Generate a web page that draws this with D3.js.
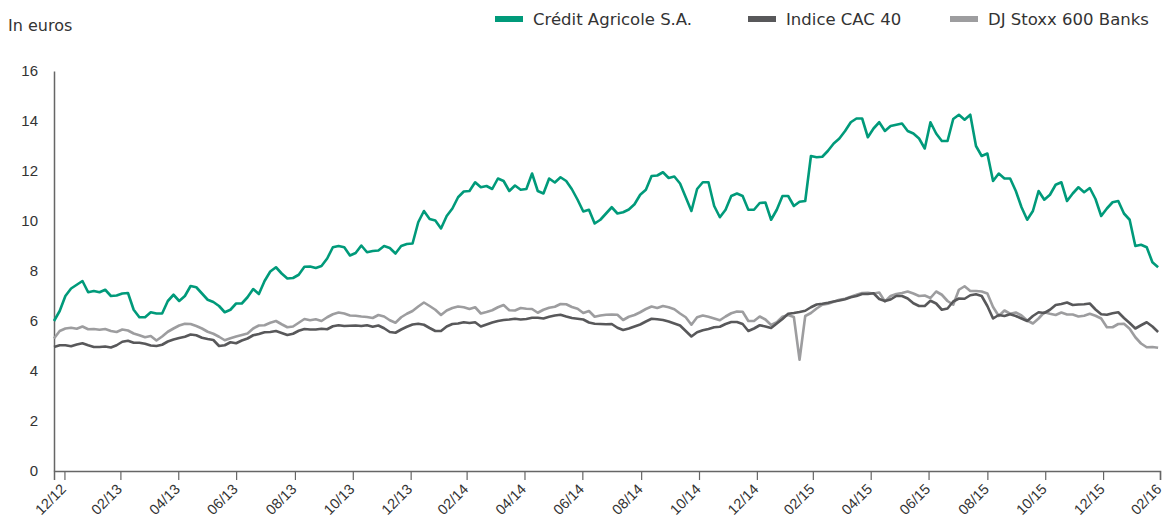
<!DOCTYPE html>
<html>
<head>
<meta charset="utf-8">
<script src="https://cdn.jsdelivr.net/npm/d3@7"></script>
<style>
  body { margin: 0; background: #fff; }
  svg { font-family: "DejaVu Sans", "Open Sans", sans-serif; }
</style>
</head>
<body>
<svg id="chart" width="1164" height="532"></svg>
<script>
// series names and colours
var seriesNames = ["Crédit Agricole S.A.", "Indice CAC 40", "DJ Stoxx 600 Banks"];
var seriesColors = ["#009a7a", "#58585a", "#9d9d9f"];

// one reading every 6 days, starting 20 Dec 2012
var startDate = "2012-12-20";
var stepDays = 6;

var creditAgricole = [
  6.0, 6.4, 7.0, 7.3, 7.45, 7.6, 7.15, 7.2, 7.15, 7.25,
  7.0, 7.02, 7.1, 7.12, 6.45, 6.15, 6.15, 6.35, 6.3, 6.3,
  6.8, 7.05, 6.8, 7.0, 7.4, 7.35, 7.1, 6.85, 6.76, 6.6,
  6.35, 6.45, 6.7, 6.7, 6.95, 7.28, 7.08, 7.6, 7.98, 8.15,
  7.9, 7.7, 7.72, 7.85, 8.17, 8.18, 8.12, 8.2, 8.5, 8.95,
  9.0, 8.95, 8.62, 8.72, 9.02, 8.75, 8.8, 8.82, 9.0, 8.92,
  8.7, 9.0, 9.08, 9.1, 9.95, 10.4, 10.08, 10.02, 9.7, 10.2,
  10.5, 10.95, 11.18, 11.2, 11.55, 11.35, 11.4, 11.28, 11.7, 11.6,
  11.2, 11.42, 11.25, 11.28, 11.9, 11.2, 11.1, 11.7, 11.54, 11.75,
  11.6, 11.27, 10.85, 10.38, 10.45, 9.9, 10.05, 10.3, 10.55, 10.3,
  10.35, 10.46, 10.67, 11.05, 11.25, 11.8, 11.82, 11.95, 11.72, 11.78,
  11.5, 10.95, 10.4, 11.28, 11.55, 11.55, 10.6, 10.15, 10.45, 11.0,
  11.1, 11.0, 10.45, 10.45, 10.72, 10.74, 10.05, 10.45, 11.0, 11.0,
  10.6, 10.77, 10.8, 12.6, 12.55, 12.57, 12.81, 13.1, 13.3, 13.6,
  13.95, 14.1, 14.1, 13.35, 13.7, 13.95, 13.6, 13.8, 13.85, 13.9,
  13.6, 13.5, 13.3, 12.9, 13.95, 13.5, 13.2, 13.2, 14.08, 14.25,
  14.05, 14.25, 13.0, 12.6, 12.7, 11.6, 11.9, 11.7, 11.7, 11.2,
  10.55, 10.05, 10.4, 11.2, 10.85, 11.05, 11.45, 11.55, 10.8, 11.1,
  11.35, 11.15, 11.32, 10.88, 10.2, 10.5, 10.75, 10.8, 10.3, 10.05,
  9.0, 9.05, 8.95, 8.35, 8.15
];

var cac40 = [
  4.96, 5.03, 5.03, 4.99, 5.06, 5.11, 5.03, 4.96, 4.96, 4.98,
  4.94, 5.03, 5.17, 5.21, 5.13, 5.13, 5.09, 5.02, 5.0, 5.05,
  5.18, 5.26, 5.32, 5.37, 5.46, 5.43, 5.33, 5.28, 5.24, 5.0,
  5.03, 5.15, 5.11, 5.22, 5.3, 5.43, 5.48, 5.55, 5.56, 5.6,
  5.52, 5.44, 5.49, 5.61, 5.68, 5.66, 5.66, 5.69, 5.67, 5.79,
  5.83, 5.8, 5.81, 5.82, 5.8, 5.83, 5.77, 5.82, 5.71, 5.56,
  5.53, 5.66, 5.77, 5.86, 5.89, 5.85, 5.72, 5.6, 5.6, 5.78,
  5.88, 5.9, 5.95, 5.92, 5.95, 5.78, 5.86, 5.94, 6.0, 6.04,
  6.06, 6.09, 6.06, 6.08, 6.13, 6.13, 6.1, 6.17, 6.22, 6.25,
  6.18, 6.12, 6.09, 6.06, 5.94, 5.89, 5.88, 5.87, 5.88, 5.73,
  5.64, 5.7, 5.78, 5.86, 5.98, 6.09, 6.07, 6.04, 5.98, 5.9,
  5.82, 5.6, 5.38, 5.55, 5.63, 5.68, 5.75, 5.77, 5.88, 5.96,
  5.96, 5.88, 5.6, 5.7, 5.83, 5.78, 5.72, 5.9, 6.08, 6.29,
  6.32, 6.36, 6.41, 6.55, 6.66, 6.69, 6.73, 6.78, 6.82, 6.87,
  6.95, 7.0, 7.08, 7.08, 7.11, 6.88, 6.8, 6.86, 7.0, 7.0,
  6.9, 6.71, 6.6, 6.6, 6.81, 6.7, 6.45, 6.5, 6.78, 6.9,
  6.89, 7.03, 7.07, 7.0, 6.6, 6.1, 6.24, 6.2, 6.27, 6.2,
  6.1, 6.0, 6.2, 6.35, 6.32, 6.45, 6.64, 6.68, 6.74, 6.64,
  6.66, 6.67, 6.7, 6.46, 6.27, 6.25, 6.31, 6.35, 6.12, 5.92,
  5.7, 5.83, 5.95, 5.78, 5.56
];

var stoxxBanks = [
  5.3, 5.6, 5.7, 5.73, 5.69, 5.78, 5.67, 5.68, 5.65, 5.68,
  5.6, 5.56, 5.66, 5.62, 5.5, 5.43, 5.35, 5.4, 5.22, 5.38,
  5.57, 5.7, 5.82, 5.89, 5.88, 5.8, 5.7, 5.57, 5.49, 5.37,
  5.23, 5.31, 5.38, 5.44, 5.5, 5.7, 5.82, 5.83, 5.93, 6.0,
  5.87, 5.75, 5.78, 5.93, 6.08, 6.03, 6.07, 6.0, 6.15, 6.27,
  6.34, 6.3, 6.22, 6.21, 6.18, 6.16, 6.12, 6.24, 6.18, 6.03,
  5.93, 6.15, 6.29, 6.4, 6.58, 6.74, 6.6, 6.45, 6.24, 6.42,
  6.52, 6.58, 6.55, 6.48, 6.55, 6.3, 6.36, 6.43, 6.55, 6.64,
  6.43, 6.42, 6.52, 6.49, 6.48, 6.33, 6.45, 6.53, 6.57, 6.68,
  6.67, 6.56, 6.49, 6.32, 6.4, 6.17, 6.22, 6.25, 6.26, 6.25,
  6.04, 6.17, 6.24, 6.35, 6.48, 6.58, 6.52, 6.6, 6.55, 6.47,
  6.3, 6.15, 5.85, 6.15, 6.22, 6.17, 6.1, 6.03, 6.18, 6.31,
  6.38, 6.37, 6.0, 6.0, 6.18, 6.06, 5.84, 5.95, 6.17, 6.24,
  6.16, 4.45, 6.2, 6.32, 6.5, 6.65, 6.69, 6.77, 6.85, 6.89,
  6.97, 7.05, 7.12, 7.13, 7.1, 7.14, 6.78, 7.0, 7.08, 7.12,
  7.18, 7.1, 7.0, 7.02, 6.92, 7.18, 7.05, 6.8, 6.65, 7.25,
  7.39, 7.2, 7.2, 7.18, 7.1, 6.56, 6.2, 6.42, 6.29, 6.34,
  6.22, 6.02, 5.9, 6.1, 6.35, 6.29, 6.24, 6.34, 6.26, 6.26,
  6.18, 6.21, 6.29, 6.21, 6.1, 5.75, 5.75, 5.88, 5.89, 5.69,
  5.35, 5.1, 4.95, 4.96, 4.93
];

var tickLabels = ["12/12", "02/13", "04/13", "06/13", "08/13", "10/13", "12/13",
  "02/14", "04/14", "06/14", "08/14", "10/14", "12/14", "02/15", "04/15",
  "06/15", "08/15", "10/15", "12/15", "02/16"];
var yTicks = [0, 2, 4, 6, 8, 10, 12, 14, 16];

var svg = d3.select("#chart");

var parseDay = d3.timeParse("%Y-%m-%d");
var parseMonth = d3.timeParse("%m/%y");
var start = parseDay(startDate);
// tick = last day of the labelled month
var tickDates = tickLabels.map(function(l) {
  return d3.timeDay.offset(d3.timeMonth.offset(parseMonth(l), 1), -1);
});

var x = d3.scaleTime()
  .domain([start, tickDates[tickDates.length - 1]])
  .range([54, 1160]);
var y = d3.scaleLinear()
  .domain([0, 16])
  .range([471, 71]);

function toPoints(values) {
  return values.map(function(v, i) {
    return { date: d3.timeDay.offset(start, i * stepDays), value: v };
  });
}

// axes
var xAxis = svg.append("g")
  .attr("transform", "translate(0," + y(0) + ")")
  .call(d3.axisBottom(x)
    .tickValues(tickDates)
    .tickFormat(function(d, i) { return tickLabels[i]; })
    .tickSizeOuter(0)
    .tickSize(9));
xAxis.select(".domain").attr("stroke", "#666").attr("stroke-width", 1.5);
xAxis.selectAll(".tick line").attr("stroke", "#666").attr("stroke-width", 1.2);
xAxis.selectAll(".tick text")
  .attr("fill", "#333")
  .style("font-size", "14.5px")
  .attr("text-anchor", "end")
  .attr("x", 0)
  .attr("y", 0)
  .attr("dy", "0.3em")
  .attr("transform", "translate(-1,16) rotate(-45)");

var yAxis = svg.append("g")
  .attr("transform", "translate(54,0)")
  .call(d3.axisLeft(y)
    .tickValues(yTicks)
    .tickSize(0)
    .tickPadding(16));
yAxis.select(".domain").attr("stroke", "#666").attr("stroke-width", 1.5);
yAxis.selectAll(".tick text")
  .attr("fill", "#333")
  .style("font-size", "15px");

svg.append("text")
  .attr("x", 8)
  .attr("y", 31)
  .attr("fill", "#333")
  .style("font-size", "16px")
  .text("In euros");

// lines
var line = d3.line()
  .x(function(d) { return x(d.date); })
  .y(function(d) { return y(d.value); });

var allSeries = [stoxxBanks, cac40, creditAgricole];
var allColors = [seriesColors[2], seriesColors[1], seriesColors[0]];
allSeries.forEach(function(s, k) {
  svg.append("path")
    .datum(toPoints(s))
    .attr("fill", "none")
    .attr("stroke", allColors[k])
    .attr("stroke-width", 2.6)
    .attr("stroke-linejoin", "round")
    .attr("d", line);
});

// legend
var legendX = [495, 748, 950];
var legend = svg.append("g");
seriesNames.forEach(function(name, i) {
  legend.append("rect")
    .attr("x", legendX[i])
    .attr("y", 16)
    .attr("width", 28)
    .attr("height", 6)
    .attr("fill", seriesColors[i]);
  legend.append("text")
    .attr("x", legendX[i] + 38)
    .attr("y", 25)
    .attr("fill", "#333")
    .style("font-size", "16.5px")
    .text(name);
});
</script>
</body>
</html>
